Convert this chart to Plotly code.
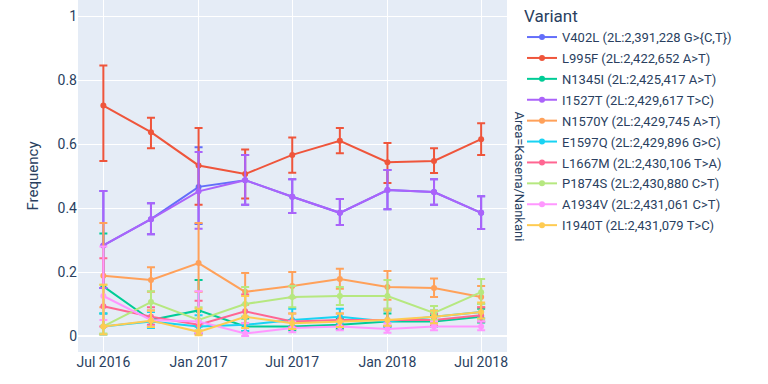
import plotly.graph_objects as go

dates = ["2016-07-01", "2016-10-01", "2017-01-01", "2017-04-01", "2017-07-01",
         "2017-10-01", "2018-01-01", "2018-04-01", "2018-07-01"]

variants = [
    "V402L (2L:2,391,228 G>{C,T})",
    "L995F (2L:2,422,652 A>T)",
    "N1345I (2L:2,425,417 A>T)",
    "I1527T (2L:2,429,617 T>C)",
    "N1570Y (2L:2,429,745 A>T)",
    "E1597Q (2L:2,429,896 G>C)",
    "L1667M (2L:2,430,106 T>A)",
    "P1874S (2L:2,430,880 C>T)",
    "A1934V (2L:2,431,061 C>T)",
    "I1940T (2L:2,431,079 T>C)",
]

colors = ["#636EFA", "#EF553B", "#00CC96", "#AB63FA", "#FFA15A",
          "#19D3F3", "#FF6692", "#B6E880", "#FF97FF", "#FECB52"]

# frequencies per variant (one value per date)
freq_V402L = [0.283, 0.365, 0.466, 0.487, 0.435, 0.385, 0.456, 0.450, 0.385]
freq_L995F = [0.720, 0.637, 0.533, 0.506, 0.566, 0.610, 0.543, 0.547, 0.615]
freq_N1345I = [0.155, 0.050, 0.080, 0.030, 0.030, 0.035, 0.045, 0.045, 0.060]
freq_I1527T = [0.283, 0.365, 0.452, 0.487, 0.435, 0.385, 0.456, 0.450, 0.385]
freq_N1570Y = [0.188, 0.175, 0.228, 0.138, 0.156, 0.178, 0.153, 0.150, 0.122]
freq_E1597Q = [0.030, 0.045, 0.030, 0.035, 0.050, 0.060, 0.045, 0.060, 0.075]
freq_L1667M = [0.093, 0.060, 0.035, 0.077, 0.045, 0.050, 0.050, 0.050, 0.065]
freq_P1874S = [0.030, 0.106, 0.050, 0.100, 0.122, 0.125, 0.125, 0.072, 0.137]
freq_A1934V = [0.125, 0.050, 0.045, 0.008, 0.025, 0.030, 0.022, 0.030, 0.030]
freq_I1940T = [0.030, 0.048, 0.013, 0.060, 0.040, 0.045, 0.050, 0.060, 0.075]

# upper confidence bounds
hi_V402L = [0.453, 0.415, 0.590, 0.566, 0.490, 0.428, 0.519, 0.490, 0.437]
hi_L995F = [0.845, 0.682, 0.650, 0.583, 0.620, 0.650, 0.603, 0.587, 0.665]
hi_N1345I = [0.320, 0.080, 0.175, 0.055, 0.050, 0.055, 0.070, 0.065, 0.085]
hi_I1527T = [0.453, 0.415, 0.575, 0.566, 0.490, 0.428, 0.519, 0.490, 0.437]
hi_N1570Y = [0.353, 0.215, 0.353, 0.197, 0.200, 0.210, 0.203, 0.180, 0.156]
hi_E1597Q = [0.070, 0.075, 0.065, 0.060, 0.085, 0.085, 0.080, 0.080, 0.100]
hi_L1667M = [0.243, 0.090, 0.110, 0.130, 0.070, 0.070, 0.085, 0.070, 0.090]
hi_P1874S = [0.160, 0.140, 0.090, 0.153, 0.156, 0.153, 0.175, 0.094, 0.178]
hi_A1934V = [0.280, 0.080, 0.140, 0.040, 0.045, 0.045, 0.040, 0.045, 0.045]
hi_I1940T = [0.160, 0.080, 0.085, 0.125, 0.070, 0.070, 0.080, 0.080, 0.105]

# lower confidence bounds
lo_V402L = [0.150, 0.318, 0.350, 0.410, 0.384, 0.347, 0.396, 0.410, 0.334]
lo_L995F = [0.547, 0.587, 0.410, 0.430, 0.510, 0.571, 0.478, 0.509, 0.566]
lo_N1345I = [0.070, 0.030, 0.030, 0.015, 0.018, 0.022, 0.030, 0.030, 0.042]
lo_I1527T = [0.150, 0.318, 0.335, 0.410, 0.384, 0.347, 0.396, 0.410, 0.334]
lo_N1570Y = [0.090, 0.138, 0.138, 0.098, 0.120, 0.148, 0.113, 0.122, 0.090]
lo_E1597Q = [0.005, 0.025, 0.008, 0.015, 0.030, 0.040, 0.028, 0.042, 0.055]
lo_L1667M = [0.030, 0.035, 0.008, 0.040, 0.028, 0.032, 0.032, 0.033, 0.045]
lo_P1874S = [0.008, 0.080, 0.018, 0.060, 0.090, 0.097, 0.085, 0.050, 0.100]
lo_A1934V = [0.050, 0.030, 0.010, 0.000, 0.012, 0.018, 0.010, 0.018, 0.018]
lo_I1940T = [0.005, 0.028, 0.002, 0.025, 0.022, 0.028, 0.032, 0.040, 0.055]

freqs = [freq_V402L, freq_L995F, freq_N1345I, freq_I1527T, freq_N1570Y,
         freq_E1597Q, freq_L1667M, freq_P1874S, freq_A1934V, freq_I1940T]
his = [hi_V402L, hi_L995F, hi_N1345I, hi_I1527T, hi_N1570Y,
       hi_E1597Q, hi_L1667M, hi_P1874S, hi_A1934V, hi_I1940T]
los = [lo_V402L, lo_L995F, lo_N1345I, lo_I1527T, lo_N1570Y,
       lo_E1597Q, lo_L1667M, lo_P1874S, lo_A1934V, lo_I1940T]

FONT = "Roboto"

fig = go.Figure()
for name, col, f, hi, lo in zip(variants, colors, freqs, his, los):
    fig.add_trace(go.Scatter(
        x=dates, y=f, name=name, legendgroup=name, mode="lines+markers",
        line=dict(color=col, width=2),
        marker=dict(color=col, size=6),
        error_y=dict(type="data", symmetric=False,
                     array=[h - v for h, v in zip(hi, f)],
                     arrayminus=[v - l for v, l in zip(f, lo)],
                     color=col, thickness=2, width=4),
    ))

fig.update_layout(
    template="plotly",
    width=768, height=384,
    margin=dict(l=78, r=261, t=0, b=32),
    font=dict(family=FONT, size=13, color="#2a3f5f"),
    legend=dict(title=dict(text="Variant", font=dict(size=17)),
                x=1.035, xanchor="left", y=1.0, yanchor="top",
                font=dict(size=13), tracegroupgap=1),
    xaxis=dict(range=["2016-05-13", "2018-08-20"], dtick="M6",
               tickformat="%b %Y", showgrid=True, tickfont=dict(size=14)),
    yaxis=dict(range=[-0.05, 1.05], dtick=0.2, tickfont=dict(size=14),
               title=dict(text="Frequency", font=dict(size=15))),
    annotations=[dict(text="Area=Kasena/Nankani", textangle=90,
                      x=1.0, xref="paper", xanchor="left", xshift=3,
                      y=0.5, yref="paper", yanchor="middle",
                      showarrow=False, font=dict(size=13))],
)

fig.write_html("out.html", config={"displayModeBar": False},
               post_script="document.body.style.margin='0';document.body.style.padding='0';")
